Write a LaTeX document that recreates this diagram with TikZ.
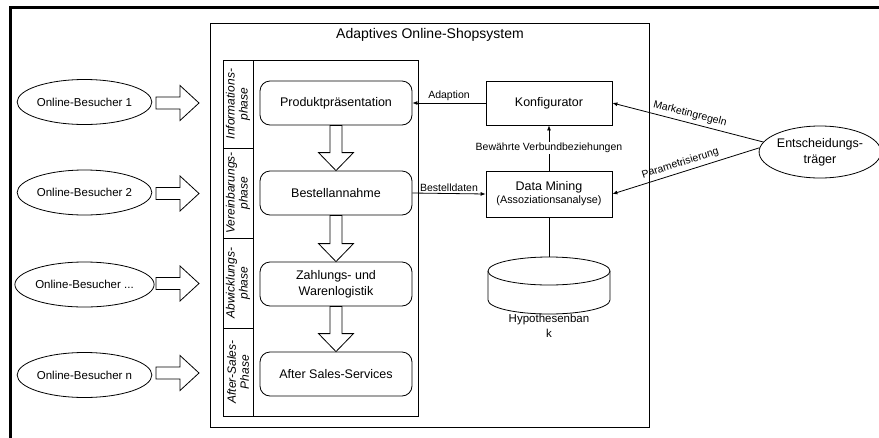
\documentclass[tikz,border=0pt]{standalone}
\usepackage{fontspec}
\setmainfont{Liberation Sans}
\usetikzlibrary{shapes.geometric,arrows.meta,calc}
\tikzset{
  visitor/.style={ellipse, draw, line width=0.8pt, minimum width=125, minimum height=45, inner sep=0, font=\fontsize{11.5}{13}\selectfont},
  procbox/.style={draw, line width=0.8pt, rounded corners=10, minimum width=152, minimum height=44, inner sep=0, align=center, font=\fontsize{12.5}{16}\selectfont},
  sysbox/.style={draw, line width=0.8pt, minimum width=126, minimum height=44, inner sep=0, align=center, font=\fontsize{12.5}{15}\selectfont},
  phaselabel/.style={rotate=90, align=center, inner sep=0, font=\itshape\fontsize{12}{13}\selectfont},
  lbl/.style={font=\fontsize{10.5}{12}\selectfont, inner sep=1.5pt},
  blk/.style={draw, line width=0.8pt, fill=white, line join=miter},
  conn/.style={line width=0.8pt, -{Latex[length=5pt,width=4pt]}},
  plain/.style={line width=0.8pt}
}
\begin{document}
\begin{tikzpicture}[x=1pt,y=-1pt]
\useasboundingbox (0,0) rectangle (879,437);
\clip (0,0) rectangle (879,437);
% outer frame
\draw[line width=3pt] (10,450) -- (10,7) -- (900,7);
% system box
\node[draw, line width=0.8pt, inner sep=0, minimum width=439, minimum height=404, anchor=north west] (sys) at (210,23) {};
\node[font=\fontsize{14}{16}\selectfont] (title) at (430,35) {Adaptives Online-Shopsystem};
% phase box
\node[draw, line width=0.8pt, inner sep=0, minimum width=195, minimum height=356, anchor=north west] (phb) at (223,60) {};
\draw[plain] (253,60) -- (253,416);
\draw[plain] (223,148) -- (253,148);
\draw[plain] (223,238) -- (253,238);
\draw[plain] (223,328) -- (253,328);
\node[phaselabel] (ph1) at (238,104) {Informations-\\phase};
\node[phaselabel] (ph2) at (238,193) {Vereinbarungs-\\phase};
\node[phaselabel] (ph3) at (238,283) {Abwicklungs-\\phase};
\node[phaselabel] (ph4) at (238,372) {After-Sales-\\Phase};
% process boxes
\node[procbox] (pp) at (336,103) {Produktpräsentation};
\node[procbox] (ba) at (336,193) {Bestellannahme};
\node[procbox] (zw) at (336,284) {Zahlungs- und\\Warenlogistik};
\node[procbox] (as) at (336,374) {After Sales-Services};
% down block arrows
\foreach \a/\b in {pp/ba, ba/zw, zw/as}{
  \draw[blk] ($(\a.south)+(-6,0)$) -- ($(\b.north)+(-6,-18)$) -- ($(\b.north)+(-17.5,-18)$) -- (\b.north) -- ($(\b.north)+(17.5,-18)$) -- ($(\b.north)+(6,-18)$) -- ($(\a.south)+(6,0)$) -- cycle;
}
% visitors
\node[visitor] (v1) at (84.5,102) {Online-Besucher 1};
\node[visitor] (v2) at (84.5,192.5) {Online-Besucher 2};
\node[visitor] (v3) at (84.5,284.5) {Online-Besucher ...};
\node[visitor] (v4) at (84.5,375) {Online-Besucher n};
\foreach \v/\y in {v1/103, v2/193.5, v3/283.5, v4/373}{
  \draw[blk] (156,\y-6) -- (180,\y-6) -- (180,\y-17.5) -- (199,\y) -- (180,\y+17.5) -- (180,\y+6) -- (156,\y+6) -- cycle;
}
% system side
\node[sysbox] (kf) at (549,103) {Konfigurator};
\node[sysbox, minimum height=46] (dm) at (549,194) {Data Mining\\[-2pt]{\fontsize{10.8}{12}\selectfont (Assoziationsanalyse)}};
\node[ellipse, draw, line width=0.8pt, minimum width=116, minimum height=52, inner sep=0, align=center, font=\fontsize{12.5}{16}\selectfont] (es) at (820,152) {Entscheidungs-\\träger};
% cylinder
\node[inner sep=0, minimum width=122, minimum height=57] (hb) at (549,285.5) {};
\draw[plain, fill=white] (488,271) -- (488,300) arc[start angle=180, end angle=0, x radius=61, y radius=14] -- (610,271);
\draw[plain, fill=white] (549,271) ellipse [x radius=61, y radius=14];
\node[align=center, font=\fontsize{11.5}{15}\selectfont] (hbl) at (549,325.5) {Hypothesenban\\k};
% connectors
\draw[conn] (kf.west) -- node[lbl, above, pos=0.5] {Adaption} (pp.east);
\draw[conn] (ba.east) -- node[lbl, above, pos=0.5] {Bestelldaten} (dm.west);
\draw[conn] (dm.north) -- node[lbl, fill=white, pos=0.5] {Bewährte Verbundbeziehungen} (kf.south);
\draw[plain] (dm.south) -- (hb.north);
\draw[conn] (es.170) -- node[lbl, above=2pt, sloped, pos=0.5] {Marketingregeln} (kf.east);
\draw[conn] (es.176) -- node[lbl, above=2pt, sloped, pos=0.52] {Parametrisierung} (dm.east);
\end{tikzpicture}
\end{document}
